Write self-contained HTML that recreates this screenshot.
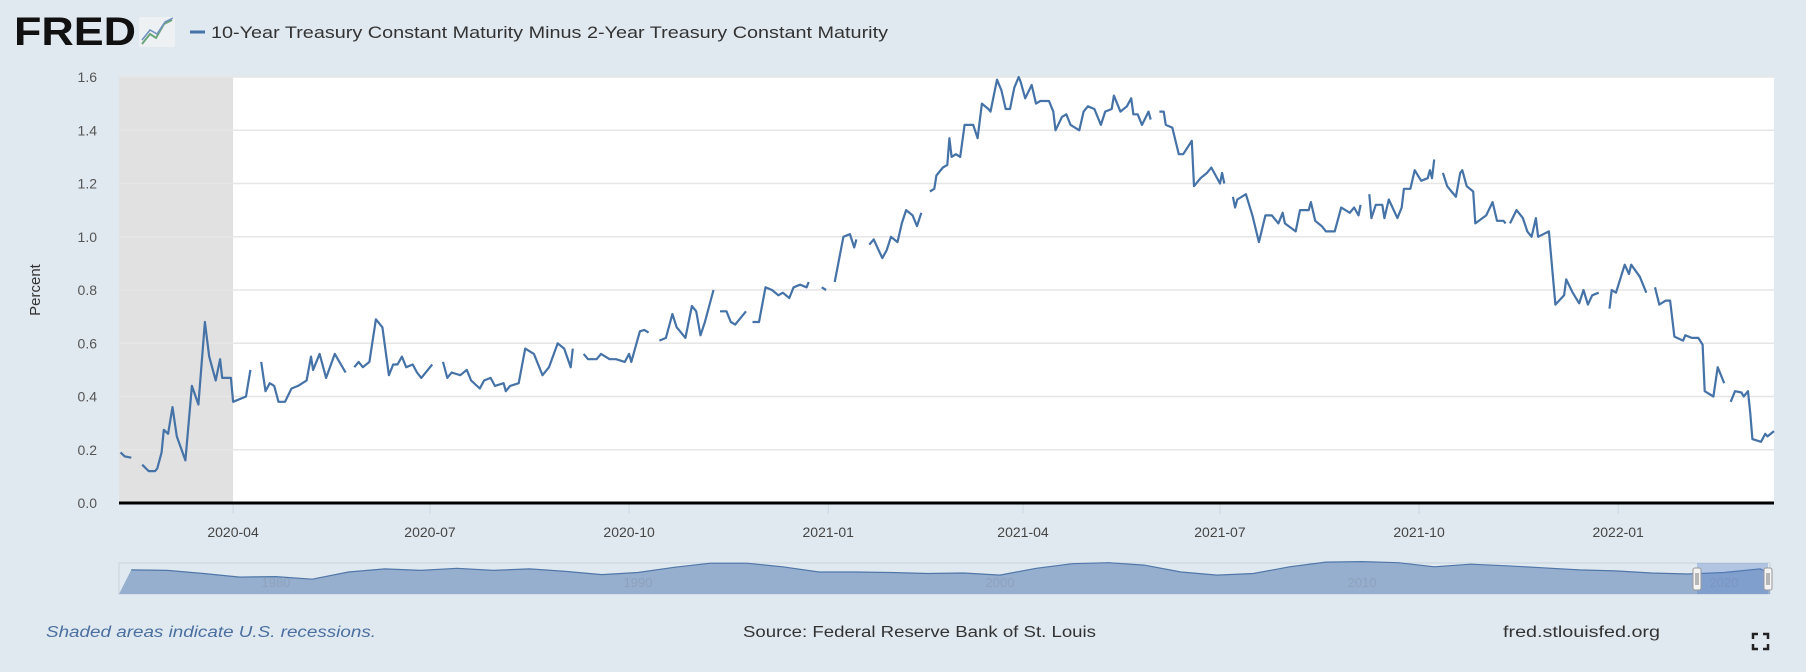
<!DOCTYPE html>
<html><head><meta charset="utf-8"><style>
html,body{margin:0;padding:0;background:#e1e9f0;}
svg{display:block;font-family:"Liberation Sans",sans-serif;}
</style></head><body>
<svg id="chart" width="1806" height="672" viewBox="0 0 1806 672">
<rect x="0" y="0" width="1806" height="672" fill="#e1e9f0"/>
<g>
<text x="14" y="45" font-size="40" font-weight="bold" fill="#111" textLength="122" lengthAdjust="spacingAndGlyphs">FRED</text>
<rect x="139" y="17" width="36" height="30" fill="#eef1f4" rx="2"/>
<polyline points="142,44 150,34 156,38 164,24 172,20" fill="none" stroke="#6aa57a" stroke-width="2"/>
<polyline points="142,40 150,30 157,34 165,22 173,18" fill="none" stroke="#6f8fc0" stroke-width="1.5"/>
</g>
<line x1="190" y1="32" x2="205" y2="32" stroke="#4572a7" stroke-width="3"/>
<text x="211" y="38" font-size="16.5" fill="#333" textLength="677" lengthAdjust="spacingAndGlyphs">10-Year Treasury Constant Maturity Minus 2-Year Treasury Constant Maturity</text>
<rect x="119" y="77" width="1655" height="426" fill="#ffffff"/>
<g id="recess"></g>
<g id="grid"></g>
<g id="yticks"></g>
<g id="xticks"></g>
<text transform="translate(40,290) rotate(-90)" text-anchor="middle" font-size="15" fill="#333">Percent</text>
<path id="series" fill="none" stroke="#4572a7" stroke-width="2.2" stroke-linejoin="round"/>
<line x1="119" y1="503" x2="1774" y2="503" stroke="#000" stroke-width="3"/>
<g id="nav"></g>
<text x="46" y="637" font-size="15.5" font-style="italic" fill="#4a6fa0" textLength="330" lengthAdjust="spacingAndGlyphs">Shaded areas indicate U.S. recessions.</text>
<text x="743" y="637" font-size="15.5" fill="#333" textLength="353" lengthAdjust="spacingAndGlyphs">Source: Federal Reserve Bank of St. Louis</text>
<text x="1503" y="637" font-size="15.5" fill="#333" textLength="157" lengthAdjust="spacingAndGlyphs">fred.stlouisfed.org</text>
<g stroke="#222" stroke-width="2.5" fill="none">
<path d="M1753,639 v-5 h5 M1763,634 h5 v5 M1768,644 v5 h-5 M1758,649 h-5 v-5"/>
</g>
</svg>
<script>
// Data: day offsets relative to 2020-04-01; null = missing value (gap)
const dayOffsets = [-52,-50,-47,-46,-42,-39,-36,-35,-33,-32,-30,-28,-26,-22,-19,-16,-13,-11,-8,-6,-5,-1,0,3,6,8,10,13,15,17,19,21,24,27,30,34,36,37,40,43,47,52,54,56,58,60,63,66,69,72,74,76,78,80,83,85,87,90,92,94,97,99,101,105,108,110,114,116,119,121,125,126,128,132,135,139,143,146,150,153,156,157,159,162,164,168,170,174,177,181,183,184,188,190,192,194,197,200,203,205,207,209,212,214,216,218,222,223,225,228,230,232,237,238,240,243,246,249,252,254,257,259,262,265,266,269,272,274,276,278,282,285,287,288,291,294,296,300,302,304,307,309,311,314,316,318,320,322,324,325,328,330,331,332,334,336,338,342,344,346,349,350,353,355,357,359,361,363,364,366,369,371,373,377,379,380,383,385,387,391,393,395,398,401,403,406,407,410,413,415,416,418,420,423,424,426,428,430,431,434,437,439,443,444,447,450,452,456,457,458,460,462,463,464,468,471,474,477,480,483,485,486,491,493,497,498,500,503,505,509,512,516,518,520,521,523,525,526,528,531,532,534,538,540,541,544,546,549,552,553,554,555,557,559,561,563,565,567,568,570,573,574,579,582,584,587,588,589,590,593,596,598,600,602,603,608,611,615,616,619,622,624,626,628,631,633,636,637,639,643,645,646,650,653,655,657,659,662,664,666,670,671,674,677,679,680,684,686,689,690,692,694,697,698,700,701,702,706,708,709,712];
const spreadValues = [0.19,0.175,0.17,null,0.144,0.12,0.12,0.13,0.19,0.275,0.26,0.36,0.25,0.16,0.44,0.37,0.68,0.55,0.46,0.54,0.47,0.47,0.38,0.39,0.40,0.50,null,0.53,0.42,0.45,0.44,0.38,0.38,0.43,0.44,0.46,0.55,0.50,0.56,0.47,0.56,0.49,null,0.51,0.53,0.51,0.53,0.69,0.66,0.48,0.52,0.52,0.55,0.51,0.52,0.49,0.47,0.50,0.52,null,0.53,0.47,0.49,0.48,0.50,0.46,0.43,0.46,0.47,0.44,0.45,0.42,0.44,0.45,0.58,0.56,0.48,0.51,0.60,0.58,0.51,0.58,null,0.56,0.54,0.54,0.56,0.54,0.54,0.53,0.56,0.53,0.645,0.65,0.64,null,0.61,0.62,0.71,0.66,0.64,0.62,0.74,0.72,0.63,0.68,0.80,null,0.72,0.72,0.68,0.67,0.72,null,0.68,0.68,0.81,0.80,0.78,0.79,0.77,0.81,0.82,0.81,0.83,null,0.81,0.80,null,0.83,1.00,1.01,0.96,0.99,null,0.97,0.99,0.92,0.95,1.00,0.98,1.05,1.10,1.08,1.04,1.09,null,1.17,1.18,1.23,1.26,1.27,1.37,1.30,1.31,1.30,1.42,1.42,1.37,1.50,1.48,1.47,1.59,1.55,1.48,1.48,1.56,1.60,1.58,1.52,1.57,1.50,1.51,1.51,1.47,1.40,1.45,1.46,1.42,1.40,1.47,1.49,1.48,1.42,1.47,1.48,1.53,1.47,1.49,1.52,1.46,1.46,1.42,1.47,1.44,null,1.47,1.47,1.42,1.41,1.31,1.31,1.36,1.19,1.22,1.24,1.26,1.20,1.24,1.20,null,1.15,1.11,1.14,1.16,1.08,0.98,1.08,1.08,1.05,1.09,1.05,1.02,1.10,1.10,1.13,1.06,1.04,1.02,1.02,1.11,1.09,1.11,1.08,1.12,null,1.16,1.07,1.12,1.12,1.07,1.14,1.07,1.11,1.18,1.18,1.25,1.21,1.22,1.25,1.22,1.29,null,1.24,1.19,1.17,1.15,1.24,1.25,1.19,1.17,1.05,1.08,1.13,1.06,1.06,1.05,null,1.05,1.10,1.07,1.02,1.00,1.07,1.00,1.02,0.745,0.78,0.84,0.79,0.75,0.80,0.745,0.78,0.79,null,0.73,0.80,0.79,0.895,0.86,0.895,0.85,0.79,null,0.81,0.745,0.76,0.76,0.625,0.61,0.63,0.62,0.62,0.595,0.42,0.40,0.51,0.45,null,0.38,0.42,0.415,0.40,0.42,0.34,0.24,0.23,0.26,0.25,0.27];
const yTickValues = [0,0.2,0.4,0.6,0.8,1.0,1.2,1.4,1.6];
const yTickLabels = ["0.0","0.2","0.4","0.6","0.8","1.0","1.2","1.4","1.6"];
const xTickDays = [0,91,183,275,365,456,548,640];
const xTickLabels = ["2020-04","2020-07","2020-10","2021-01","2021-04","2021-07","2021-10","2022-01"];
const recessionDays = [-53,0];
const navYears = [1976,1977,1978,1979,1980,1981,1982,1983,1984,1985,1986,1987,1988,1989,1990,1991,1992,1993,1994,1995,1996,1997,1998,1999,2000,2001,2002,2003,2004,2005,2006,2007,2008,2009,2010,2011,2012,2013,2014,2015,2016,2017,2018,2019,2020,2021,2022];
const navValues = [1.0,0.9,0.3,-0.4,-0.3,-0.8,0.6,1.2,0.9,1.3,0.9,1.2,0.7,0.1,0.5,1.5,2.3,2.3,1.6,0.6,0.6,0.5,0.3,0.4,0.0,1.3,2.2,2.4,1.9,0.6,0.0,0.3,1.6,2.5,2.6,2.4,1.6,2.1,1.8,1.4,1.0,0.8,0.4,0.2,0.5,1.2,0.3];
const navLabels = ["1980","1990","2000","2010","2020"];
const navLabelYears = [1980,1990,2000,2010,2020];

const NS="http://www.w3.org/2000/svg";
const X0=119,X1=1774,Y0=503,Y1=77;
const dayMin=-52.7, dayMax=712;
function xScale(d){return X0+(d-dayMin)/(dayMax-dayMin)*(X1-X0);}
function yScale(v){return Y0-(v-0)/(1.6-0)*(Y0-Y1);}
function mk(tag,attrs,parent){const e=document.createElementNS(NS,tag);for(const k in attrs)e.setAttribute(k,attrs[k]);parent.appendChild(e);return e;}

const rg=document.getElementById('recess');
const rr=mk('rect',{x:X0,y:Y1,width:xScale(recessionDays[1])-X0,height:Y0-Y1,fill:'#e1e1e1'},rg);



const gg=document.getElementById('grid'), yg=document.getElementById('yticks');
yTickValues.forEach((v,i)=>{
  const y=yScale(v);
  if(v>0){const l=mk('line',{x1:X0,x2:X1,y1:y,y2:y,stroke:'#e6e6e6','stroke-width':1.5},gg);
    
    }
  const t=mk('text',{x:97,y:y+5,'text-anchor':'end','font-size':14,fill:'#555'},yg);
  t.textContent=yTickLabels[i];
  
  
});
const xg=document.getElementById('xticks');
xTickDays.forEach((d,i)=>{
  const x=xScale(d);
  const l=mk('line',{x1:x,x2:x,y1:Y0,y2:Y0+11,stroke:'#ccd6e0','stroke-width':1},xg);
  
  
  const t=mk('text',{x:x,y:537,'text-anchor':'middle','font-size':14,fill:'#444'},xg);
  t.textContent=xTickLabels[i];
  
  
});

let d='',pen=false;
dayOffsets.forEach((dd,i)=>{
  const v=spreadValues[i];
  if(v===null){pen=false;return;}
  d+=(pen?'L':'M')+xScale(dd).toFixed(1)+','+yScale(v).toFixed(1);
  pen=true;
});
document.getElementById('series').setAttribute('d',d);

// navigator
const nav=document.getElementById('nav');
const NX0=119,NX1=1770,NYT=563,NYB=594;
function nx(yr){return 276+(yr-1980)*(1724-276)/40;}
function ny(v){return 588-(v+2.5)/5.8*30;}
const nb=mk('rect',{x:NX0,y:NYT,width:NX1-NX0,height:NYB-NYT,fill:'#e1e9f0',stroke:'#c8d2dc','stroke-width':1},nav);


let ap='M'+NX0+','+NYB, lp='';
navYears.forEach((yr,i)=>{
  const x=Math.max(NX0,Math.min(NX1,nx(yr))), y=ny(navValues[i]);
  ap+='L'+x.toFixed(1)+','+y.toFixed(1);
  lp+=(i?'L':'M')+x.toFixed(1)+','+y.toFixed(1);
});
ap+='L'+NX1+','+NYB+'Z';
const na=mk('path',{d:ap,fill:'#97afcf'},nav);


const nl=mk('path',{d:lp,fill:'none',stroke:'#4f77a8','stroke-width':1.2},nav);


navLabels.forEach((s,i)=>{
  const t=mk('text',{x:nx(navLabelYears[i]),y:587,'text-anchor':'middle','font-size':13,fill:'#8ea2bb'},nav);
  t.textContent=s;
  
  
});
const sel=mk('rect',{x:1697,y:NYT,width:71,height:NYB-NYT,fill:'rgba(90,130,200,0.35)'},nav);


[1697,1768].forEach(x=>{
  const h=mk('rect',{x:x-4,y:568,width:8,height:22,rx:2,fill:'#f4f4f4',stroke:'#999','stroke-width':1},nav);
  
  
  mk('line',{x1:x-1,x2:x-1,y1:573,y2:585,stroke:'#777'},nav);
  mk('line',{x1:x+1,x2:x+1,y1:573,y2:585,stroke:'#777'},nav);
});
</script>
</body></html>
